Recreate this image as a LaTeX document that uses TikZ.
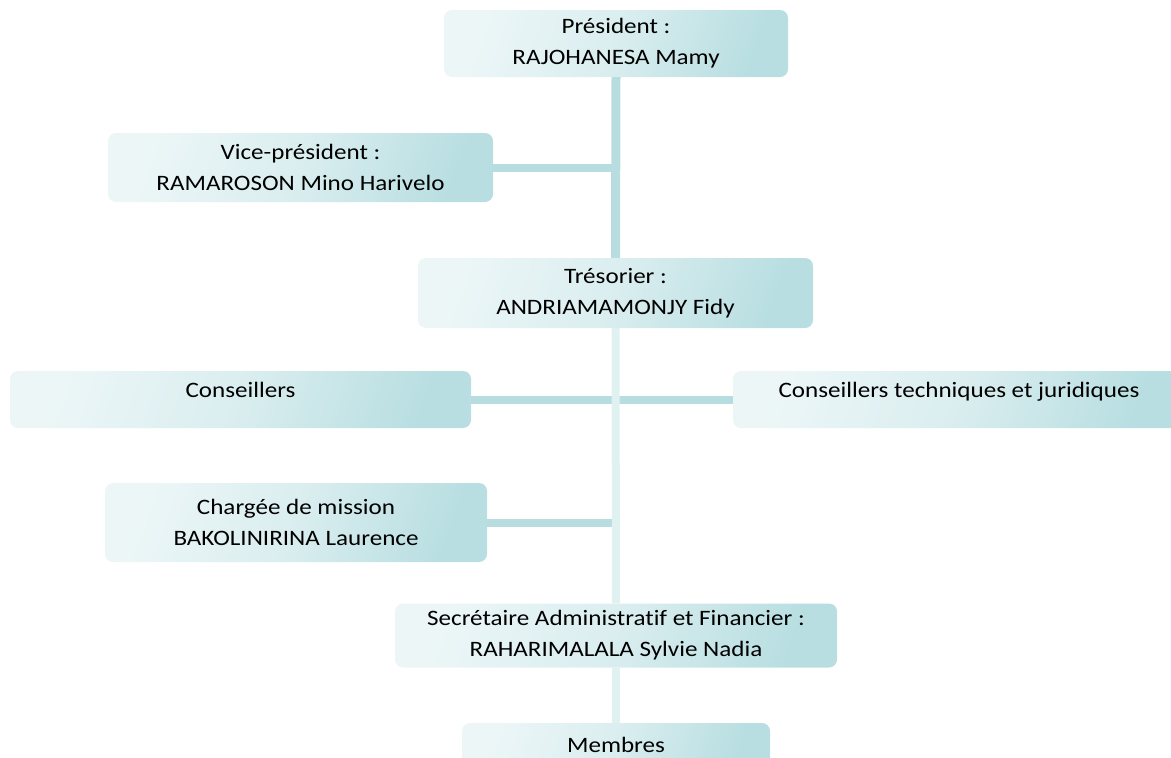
\documentclass[tikz,border=0pt]{standalone}
\usepackage{fontspec}
\setmainfont[FakeStretch=1.14,Ligatures=NoCommon]{Carlito}
\definecolor{boxlight}{RGB}{236,246,247}
\definecolor{boxdark}{RGB}{184,222,225}
\definecolor{liendark}{RGB}{183,221,225}
\definecolor{lienlight}{RGB}{224,241,242}
\tikzset{
    poste/.style={rectangle,rounded corners=8pt,inner sep=0pt,align=center,
        top color=boxlight,bottom color=boxdark,middle color=boxlight!65!boxdark,
        shading angle=70,font=\fontsize{22}{31}\selectfont},
    lien/.style={line width=8pt,draw=liendark},
    lienclair/.style={line width=8pt,draw=lienlight},
}
\begin{document}
\begin{tikzpicture}[x=1pt,y=-1pt]
        \useasboundingbox (0,0) rectangle (1171,758);
        %% Bureau
        \node[poste,minimum width=344pt,minimum height=67pt] (pres) at (616,43.5)
            {Président :\\RAJOHANESA Mamy};
        \node[poste,minimum width=385pt,minimum height=69pt] (vice) at (300.5,167.5)
            {Vice-président :\\RAMAROSON Mino Harivelo};
        \node[poste,minimum width=395pt,minimum height=70pt] (tres) at (615.5,293)
            {Trésorier :\\ANDRIAMAMONJY Fidy};
        %% Conseillers
        \node[poste,minimum width=461pt,text height=26pt,text depth=31pt] (cons) at (240.5,399.5)
            {Conseillers};
        \node[poste,minimum width=452pt,text height=26pt,text depth=31pt] (tech) at (959,399.5)
            {Conseillers techniques et juridiques};
        %% Mission et secretariat
        \node[poste,minimum width=382pt,minimum height=79pt] (charg) at (296,522.5)
            {Chargée de mission\\BAKOLINIRINA Laurence};
        \node[poste,minimum width=442pt,minimum height=64pt] (secr) at (616,635.5)
            {Secrétaire Administratif et Financier :\\RAHARIMALALA Sylvie Nadia};
        \node[poste,minimum width=308pt,minimum height=44pt] (memb) at (616,745)
            {Membres};
        %% Liens
        \draw[lien,line width=9pt] (pres.south) -- (tres.north);
        \draw[lien] (vice.east) -- (vice.east -| pres.south);
        \draw[lien] (cons.east) -- (cons.east -| tres.south);
        \draw[lien] (tech.west) -- (tech.west -| tres.south);
        \draw[lien] (charg.east) -- (charg.east -| tres.south);
        \draw[lienclair] (tres.south) -- (secr.north);
        \draw[lienclair] (secr.south) -- (memb.north);
\end{tikzpicture}
\end{document}
